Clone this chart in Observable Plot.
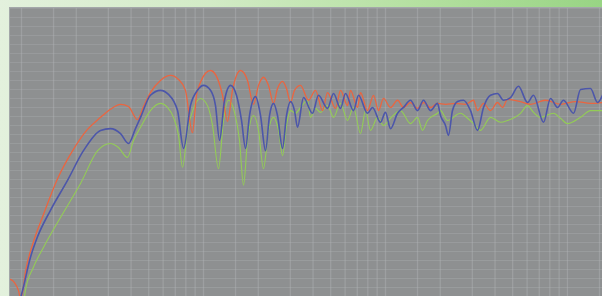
<!DOCTYPE html>
<html>
<head>
<meta charset="utf-8">
<script src="https://cdn.jsdelivr.net/npm/d3@7"></script>
<script src="https://cdn.jsdelivr.net/npm/@observablehq/plot@0.6"></script>
<style>
  html, body { margin: 0; padding: 0; }
  body {
    width: 602px; height: 296px; overflow: hidden;
    background: linear-gradient(90deg, #e3f1dd 0%, #d2ebc6 35%, #b4e0a0 70%, #98d484 100%);
  }
  #chart svg { display: block; filter: blur(0.5px); }
</style>
</head>
<body>
<div id="chart"></div>
<script>
// Frequency (Hz) and level (dB)
const redFreq = [8.70, 9.15, 9.63, 9.87, 10.13, 10.5, 11.6, 13.2, 15.8, 19.1, 22.8, 27.2, 30.8, 35.0, 38.7, 43.4, 46.8, 51.1, 58.0, 65.9, 72.9, 79.6, 87.0, 91.5, 96.3, 102.6, 109.3, 119.4, 127.2, 135.5, 144.3, 159.7, 174.5, 188.3, 200.6, 213.6, 227.6, 242.5, 255.1, 271.8, 285.8, 300.7, 316.3, 341.3, 377.6, 412.6, 450.8, 480.3, 531.5, 566.3, 618.5, 642.4, 702.0, 729.2, 796.6, 859.7, 915.6, 975.4, 1066, 1165, 1256, 1372, 1500, 1618, 1768, 1931, 2137, 2425, 2754, 3046, 3204, 3457, 3778, 4126, 4396, 4685, 5521, 6266, 7576, 9158, 11070, 13390, 15580];
const redLevel = [43.8, 43.1, 41.3, 39.6, 40.9, 45.3, 52.0, 58.2, 66.2, 72.4, 76.9, 79.8, 81.6, 82.7, 82.2, 79.3, 82.2, 85.3, 88.0, 89.1, 88.2, 85.8, 76.4, 84.7, 87.6, 89.6, 90.2, 88.4, 84.7, 78.9, 85.8, 90.2, 88.0, 82.7, 86.9, 88.7, 86.9, 82.9, 86.2, 87.8, 86.2, 83.1, 85.8, 86.9, 83.6, 85.8, 81.3, 85.3, 81.8, 85.8, 82.4, 85.8, 82.0, 85.3, 81.3, 84.7, 81.3, 84.0, 82.0, 83.6, 82.0, 83.1, 81.8, 83.1, 82.0, 82.9, 82.7, 82.9, 82.7, 83.6, 81.3, 82.9, 81.3, 83.1, 82.0, 83.8, 83.3, 82.7, 83.6, 82.7, 83.3, 82.9, 83.1];

const blueFreq = [9.87, 10.13, 11.2, 12.2, 14.4, 17.9, 21.9, 27.2, 30.8, 35.0, 38.7, 42.3, 45.1, 51.1, 58.0, 64.2, 72.0, 77.7, 84.8, 92.7, 100, 109.3, 116.4, 122.5, 130.5, 140.8, 151.8, 161.8, 170.2, 179.0, 193.2, 205.8, 219.2, 230.6, 242.5, 255.1, 271.8, 285.8, 300.7, 316.3, 328.6, 354.5, 397.2, 428.5, 480.3, 518.2, 566.3, 603.0, 667.4, 711.0, 796.6, 848.8, 939.1, 1000, 1066, 1165, 1256, 1372, 1500, 1618, 1768, 1931, 2006, 2137, 2220, 2335, 2488, 2685, 2933, 3204, 3457, 3778, 4126, 4453, 4865, 5383, 6034, 6508, 7386, 8069, 8815, 9513, 10800, 11800, 13390, 14630, 15580];
const blueLevel = [39.6, 41.3, 48.7, 53.1, 59.1, 65.8, 72.4, 76.9, 77.3, 76.2, 74.0, 77.3, 79.8, 84.7, 85.8, 84.9, 81.3, 72.9, 82.4, 85.8, 86.9, 85.8, 82.4, 74.7, 83.6, 86.9, 84.7, 79.1, 72.9, 80.2, 84.4, 80.2, 72.4, 80.2, 82.9, 80.2, 72.9, 80.2, 83.3, 81.3, 77.6, 84.2, 80.7, 84.7, 81.8, 85.1, 81.8, 85.1, 81.3, 84.7, 80.7, 82.0, 78.7, 80.9, 77.3, 80.7, 82.0, 83.6, 81.3, 83.6, 81.3, 82.9, 80.2, 78.0, 75.8, 81.3, 83.3, 83.6, 81.3, 76.9, 82.0, 84.7, 85.1, 83.6, 84.2, 86.7, 83.1, 84.7, 78.7, 84.0, 82.0, 83.6, 80.7, 86.0, 86.2, 83.1, 84.7];

const greenFreq = [10.4, 10.5, 11.6, 13.2, 16.4, 21.1, 26.2, 30.8, 34.1, 38.2, 41.3, 45.1, 51.1, 58.0, 63.4, 68.4, 72.9, 76.7, 81.7, 88.1, 96.3, 105.2, 112.1, 120.9, 128.8, 137.2, 148.1, 157.7, 165.9, 174.5, 188.3, 200.6, 213.6, 227.6, 242.5, 258.4, 271.8, 285.8, 300.7, 320.3, 341.3, 372.9, 387.3, 412.6, 439.5, 480.3, 518.2, 566.3, 618.5, 667.4, 729.2, 776.9, 827.6, 904.1, 975.4, 1066, 1209, 1372, 1500, 1597, 1702, 1931, 2006, 2192, 2584, 2823, 3046, 3329, 3778, 4287, 4685, 5521, 6034, 6508, 7112, 8380, 9158, 10010, 11800, 13390, 15580];
const greenLevel = [40.0, 41.3, 46.4, 50.9, 57.6, 65.1, 72.4, 74.0, 73.1, 70.9, 74.7, 77.6, 81.3, 82.9, 82.0, 79.8, 75.8, 68.7, 76.9, 81.8, 84.0, 82.4, 78.0, 68.4, 79.1, 83.6, 80.9, 74.7, 64.7, 74.7, 80.2, 76.9, 68.4, 76.9, 79.8, 76.9, 71.3, 78.0, 81.3, 80.7, 82.0, 83.6, 79.8, 81.8, 80.9, 82.4, 79.8, 82.9, 79.1, 82.0, 76.2, 81.3, 76.9, 79.8, 78.0, 79.6, 81.3, 78.4, 79.8, 76.9, 79.1, 80.7, 81.3, 79.1, 80.7, 79.6, 78.4, 76.9, 79.8, 78.7, 79.1, 80.7, 82.4, 80.9, 79.8, 80.7, 79.6, 78.4, 79.8, 81.3, 81.3];

// Grid values
const gridFreqs = [10, 15, 20, 30, 40, 50, 60, 70, 80, 90,
                   100, 150, 200, 300, 400, 500, 600, 700, 800, 900,
                   1000, 1500, 2000, 3000, 4000, 5000, 6000, 7000, 8000, 9000,
                   10000, 15000];
const gridLevels = d3.range(40, 106, 2);

const toRows = (f, l, name) => f.map((v, i) => ({freq: v, level: l[i], series: name}));
const red = toRows(redFreq, redLevel, "red");
const blue = toRows(blueFreq, blueLevel, "blue");
const green = toRows(greenFreq, greenLevel, "green");

const chart = Plot.plot({
  width: 602,
  height: 296,
  marginLeft: 9,
  marginTop: 7,
  marginRight: 0,
  marginBottom: 0,
  style: {background: "transparent", overflow: "hidden"},
  x: {type: "log", domain: [8.59, 15580], axis: null},
  y: {domain: [40, 104.2], axis: null},
  marks: [
    Plot.frame({fill: "#8e9091", stroke: "none"}),
    Plot.ruleY(gridLevels, {stroke: "#aeb2b5", strokeOpacity: 0.35, strokeWidth: 1}),
    Plot.ruleX(gridFreqs, {stroke: "#b3b7ba", strokeOpacity: 0.4, strokeWidth: 1.3}),
    Plot.line(green, {x: "freq", y: "level", stroke: "#93cc56", strokeWidth: 1.1, curve: "monotone-x", clip: true}),
    Plot.line(red, {x: "freq", y: "level", stroke: "#ea6540", strokeWidth: 1.3, curve: "monotone-x", clip: true}),
    Plot.line(blue, {x: "freq", y: "level", stroke: "#4c56aa", strokeWidth: 1.6, curve: "monotone-x", clip: true}),
    Plot.frame({stroke: "#a3a7a9", strokeWidth: 1})
  ]
});
document.getElementById("chart").appendChild(chart);
</script>
</body>
</html>
